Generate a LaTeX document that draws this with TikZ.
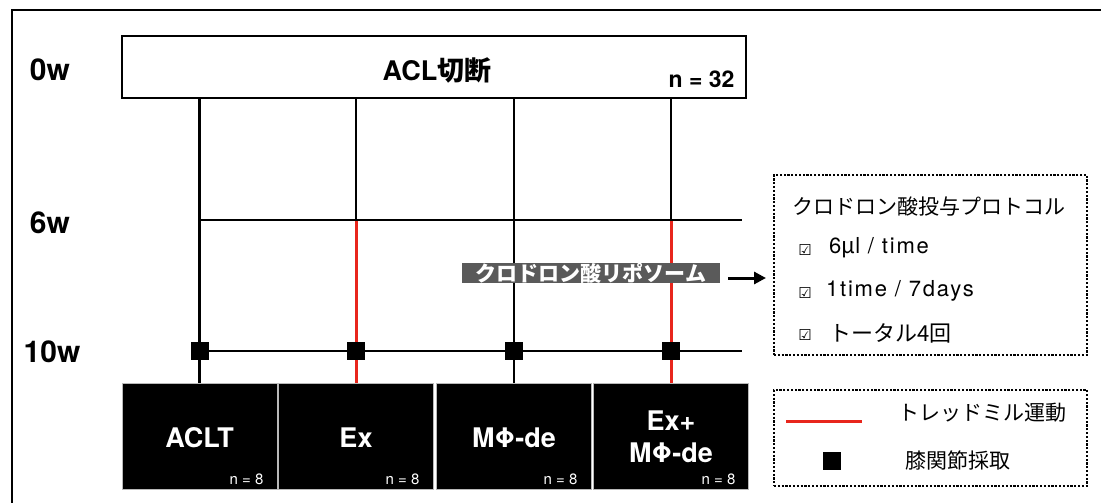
\documentclass[tikz,border=0pt]{standalone}
\usepackage{fontspec}
\setmainfont{TeX Gyre Heros}
\newfontfamily\jp{Noto Sans CJK JP}
\newfontfamily\dv{DejaVu Sans}
\newfontfamily\wide[LetterSpace=8]{TeX Gyre Heros}
\usetikzlibrary{arrows.meta,calc}
\definecolor{redline}{RGB}{232,38,28}
\definecolor{lipogray}{RGB}{90,90,90}
\begin{document}
\begin{tikzpicture}[x=1pt,y=-1pt,
  frame/.style={line width=2.4pt},
  conn/.style={line width=2.4pt, black},
  redconn/.style={line width=3pt, redline},
  sq/.style={fill=black, minimum size=18pt, inner sep=0pt},
  grpbox/.style={fill=black, draw=gray!55, line width=1pt, minimum width=155pt, minimum height=106pt, inner sep=0pt},
  grptext/.style={text=white, font=\fontsize{27}{32}\selectfont\bfseries, align=center},
  ntext/.style={text=white, font=\fontsize{15}{15}\selectfont, anchor=base east},
  wlabel/.style={font=\fontsize{30}{30}\selectfont\bfseries},
  dotbox/.style={draw, line width=2.2pt, dash pattern=on 2.2pt off 1.6pt, minimum width=313pt, inner sep=0pt},
  jptext/.style={font=\fontsize{21}{21}\selectfont\jp},
  chk/.style={font=\fontsize{15}{15}\selectfont\dv},
  item/.style={font=\fontsize{22}{22}\selectfont\wide, anchor=west, inner sep=0pt},
]
\useasboundingbox (0,0) rectangle (1101,503);
% outer frame
\draw[frame] (12,503) -- (12,10) -- (1101,10);

% time labels
\node[wlabel] (w0) at (50,70) {0w};
\node[wlabel] (w6) at (50,223) {6w};
\node[wlabel] (w10) at (52,352) {10w};

% top box
\node[draw, line width=2.4pt, minimum width=624pt, minimum height=62pt, inner sep=0pt] (top) at (434,67) {};
\node[font=\fontsize{27}{27}\selectfont\bfseries] (acl) at (437,70) {ACL{\jp\bfseries 切断}};
\node[font=\fontsize{23}{23}\selectfont\bfseries, anchor=base east] (n32) at (738,88) {n = 32};

% group boxes
\node[grpbox] (g1) at (199.5,436) {};
\node[grpbox] (g2) at (356,436) {};
\node[grpbox] (g3) at (514,436) {};
\node[grpbox] (g4) at (671,436) {};
\node[grptext] (t1) at (199.5,438) {ACLT};
\node[grptext] (t2) at (356,438) {Ex};
\node[grptext] (t3) at (514,438) {MΦ-de};
\node[grptext] (t4) at (671,437) {Ex+\\MΦ-de};
\node[ntext] (n1) at (267,484) {n = 8};
\node[ntext] (n2) at (423,484) {n = 8};
\node[ntext] (n3) at (581,484) {n = 8};
\node[ntext] (n4) at (739,484) {n = 8};

% time lines
\coordinate (w6l) at (199.5,220);
\coordinate (w6r) at (742,220);
\coordinate (w10l) at (199.5,351);
\coordinate (w10r) at (742,351);

% verticals
\draw[conn] (g1.north |- top.south) -- (g1.north);
\draw[conn] (g3.north |- top.south) -- (g3.north);
\draw[conn] (g2.north |- top.south) -- (g2.north |- w6l);
\draw[conn] (g4.north |- top.south) -- (g4.north |- w6l);
\draw[redconn] (g2.north |- w6l) -- (g2.north);
\draw[redconn] (g4.north |- w6l) -- (g4.north);

\draw[conn] (w6l) -- (w6r);
\draw[conn] (w10l) -- (w10r);

% sampling squares
\node[sq] (s1) at (g1.north |- w10l) {};
\node[sq] (s2) at (g2.north |- w10l) {};
\node[sq] (s3) at (g3.north |- w10l) {};
\node[sq] (s4) at (g4.north |- w10l) {};

% liposome label
\node[fill=lipogray, text=white, minimum width=258pt, minimum height=20pt, inner sep=0pt,
      font=\fontsize{21}{21}\selectfont\jp\bfseries] (lipo) at (591,273) {クロドロン酸リポソーム};

% protocol box
\node[dotbox, minimum height=180pt] (prot) at (930.5,265) {};
\node[jptext] (ptitle) at (929,207) {クロドロン酸投与プロトコル};
\node[chk] (c1) at (805,250) {☑};
\node[chk] (c2) at (805,293) {☑};
\node[chk] (c3) at (805,335) {☑};
\node[item] (i1) at (829,248) {6{\jp μ}l / time};
\node[item] (i2) at (826,291) {1time / 7days};
\node[item, font=\fontsize{22}{22}\selectfont\jp] (i3) at (829,333) {トータル4回};

\coordinate (arrE) at (766,278);
\draw[line width=3pt, -{Triangle[length=12pt,width=12pt]}] ($(lipo.east)+(8,5)$) -- (arrE);

% legend box
\node[dotbox, minimum height=96pt] (leg) at (930.5,438) {};
\coordinate (rl1) at (786,421);
\coordinate (rl2) at (862,421);
\draw[redconn] (rl1) -- (rl2);
\node[jptext] (lt1) at (982,413) {トレッドミル運動};
\node[sq] (ls) at (832,461) {};
\node[jptext] (lt2) at (958,460) {膝関節採取};
\end{tikzpicture}
\end{document}
